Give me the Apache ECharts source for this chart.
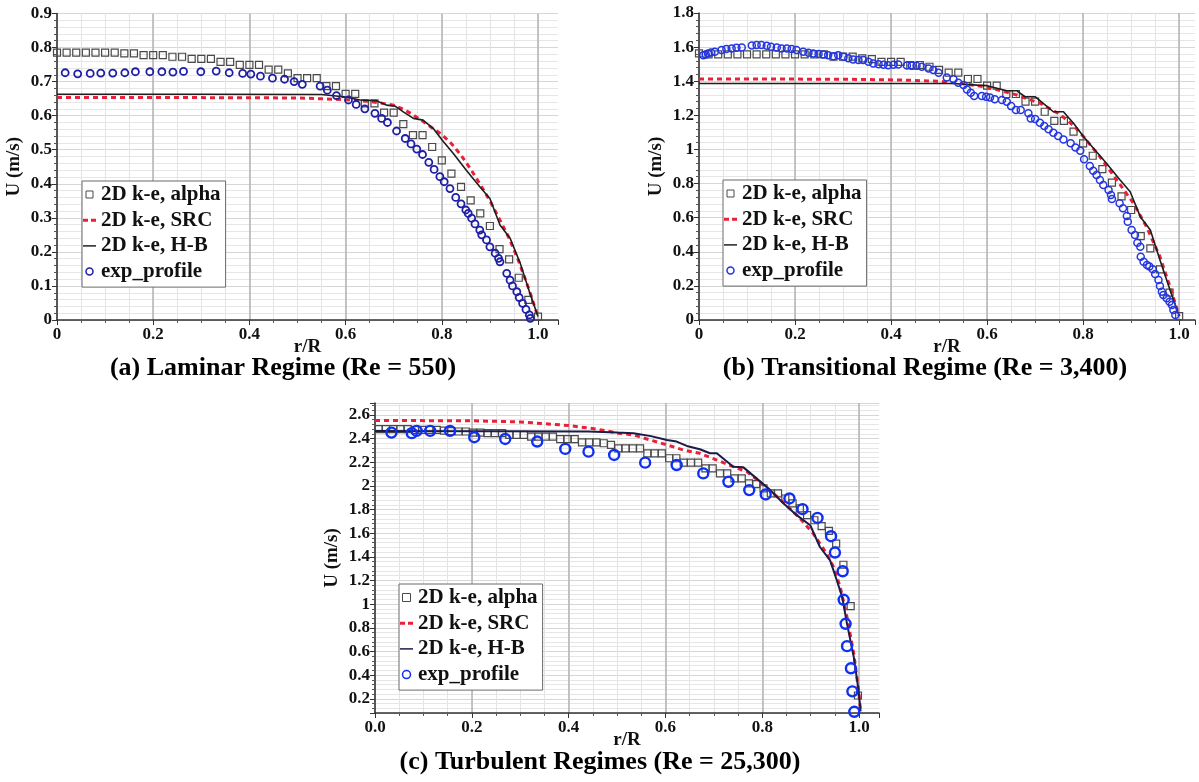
<!DOCTYPE html>
<html><head><meta charset="utf-8">
<script src="https://cdn.jsdelivr.net/npm/echarts@6/dist/echarts.min.js"></script>
<style>html,body{margin:0;padding:0;background:#fff}#c{width:1199px;height:782px}</style>
</head><body><div id="c"></div>
<script>
// ---------- DATA ----------
const SERIES_NAMES = ['2D k-e, alpha', '2D k-e, SRC', '2D k-e, H-B', 'exp_profile'];
const PANEL_TITLES = ['(a) Laminar Regime (Re = 550)', '(b) Transitional Regime (Re = 3,400)', '(c) Turbulent Regimes (Re = 25,300)'];
const X_NAME = 'r/R';
const Y_NAME = 'U (m/s)';

// Panel (a) laminar
const A_ALPHA = [[0,0.785],[0.02,0.785],[0.04,0.785],[0.06,0.785],[0.08,0.785],[0.10,0.785],[0.12,0.785],[0.14,0.783],[0.16,0.783],[0.18,0.778],[0.20,0.778],[0.22,0.778],[0.24,0.773],[0.26,0.773],[0.28,0.767],[0.30,0.767],[0.32,0.767],[0.34,0.758],[0.36,0.758],[0.38,0.749],[0.40,0.749],[0.42,0.749],[0.44,0.735],[0.46,0.735],[0.48,0.724],[0.50,0.710],[0.52,0.710],[0.54,0.710],[0.56,0.687],[0.58,0.687],[0.60,0.664],[0.62,0.664],[0.64,0.636],[0.66,0.636],[0.68,0.609],[0.70,0.609],[0.72,0.575],[0.74,0.543],[0.76,0.543],[0.78,0.508],[0.80,0.469],[0.82,0.430],[0.84,0.391],[0.86,0.351],[0.88,0.313],[0.90,0.276],[0.92,0.208],[0.94,0.178],[0.96,0.124],[0.98,0.059],[1.00,0.010]];
const A_SRC = [[0,0.653],[0.30,0.653],[0.50,0.652],[0.60,0.647],[0.65,0.642],[0.70,0.631],[0.72,0.619],[0.74,0.603],[0.76,0.584],[0.78,0.564],[0.80,0.545],[0.82,0.518],[0.84,0.484],[0.86,0.443],[0.88,0.398],[0.90,0.350],[0.92,0.296],[0.94,0.240],[0.96,0.172],[0.98,0.095],[1.00,0.010]];
const A_HB = [[0,0.663],[0.30,0.663],[0.55,0.662],[0.60,0.655],[0.63,0.646],[0.664,0.644],[0.685,0.631],[0.703,0.628],[0.72,0.611],[0.741,0.592],[0.761,0.587],[0.782,0.563],[0.801,0.528],[0.824,0.489],[0.851,0.440],[0.879,0.391],[0.90,0.357],[0.921,0.279],[0.942,0.240],[0.963,0.167],[0.983,0.079],[1.00,0.010]];
const A_EXP = [[0.017,0.726],[0.043,0.723],[0.069,0.724],[0.091,0.725],[0.116,0.725],[0.141,0.726],[0.163,0.729],[0.193,0.729],[0.218,0.729],[0.241,0.728],[0.263,0.730],[0.299,0.729],[0.331,0.731],[0.358,0.726],[0.386,0.724],[0.403,0.722],[0.423,0.716],[0.448,0.710],[0.473,0.707],[0.493,0.700],[0.510,0.692],[0.547,0.687],[0.562,0.675],[0.581,0.659],[0.606,0.646],[0.622,0.633],[0.640,0.620],[0.661,0.607],[0.675,0.592],[0.687,0.580],[0.706,0.555],[0.724,0.533],[0.736,0.517],[0.748,0.502],[0.760,0.486],[0.773,0.463],[0.784,0.442],[0.796,0.421],[0.805,0.406],[0.817,0.386],[0.829,0.360],[0.840,0.341],[0.850,0.323],[0.855,0.313],[0.862,0.299],[0.869,0.282],[0.879,0.264],[0.883,0.250],[0.893,0.235],[0.900,0.215],[0.911,0.196],[0.918,0.181],[0.921,0.171],[0.935,0.137],[0.942,0.117],[0.947,0.100],[0.956,0.083],[0.961,0.066],[0.968,0.049],[0.975,0.031],[0.982,0.015],[0.984,0.005]];

// Panel (b) transitional
const B_ALPHA = [[0,1.563],[0.02,1.557],[0.04,1.557],[0.06,1.557],[0.08,1.557],[0.10,1.557],[0.12,1.557],[0.14,1.557],[0.16,1.557],[0.18,1.557],[0.20,1.557],[0.22,1.557],[0.24,1.557],[0.26,1.557],[0.28,1.544],[0.30,1.544],[0.32,1.544],[0.34,1.534],[0.36,1.530],[0.38,1.514],[0.40,1.514],[0.42,1.514],[0.44,1.495],[0.46,1.495],[0.48,1.485],[0.50,1.466],[0.52,1.450],[0.54,1.450],[0.56,1.413],[0.58,1.413],[0.60,1.374],[0.62,1.374],[0.64,1.325],[0.66,1.325],[0.68,1.280],[0.70,1.280],[0.72,1.221],[0.74,1.168],[0.76,1.168],[0.78,1.104],[0.80,1.036],[0.82,0.963],[0.84,0.885],[0.86,0.805],[0.88,0.725],[0.90,0.645],[0.92,0.492],[0.94,0.420],[0.96,0.297],[0.98,0.160],[1.00,0.023]];
const B_SRC = [[0,1.413],[0.30,1.412],[0.42,1.407],[0.50,1.400],[0.544,1.387],[0.60,1.366],[0.662,1.319],[0.711,1.270],[0.752,1.205],[0.78,1.140],[0.801,1.074],[0.835,0.957],[0.870,0.821],[0.905,0.684],[0.932,0.547],[0.960,0.371],[0.981,0.195],[1.00,0.023]];
const B_HB = [[0,1.387],[0.53,1.387],[0.579,1.377],[0.60,1.374],[0.641,1.344],[0.662,1.344],[0.679,1.309],[0.70,1.309],[0.717,1.270],[0.738,1.221],[0.759,1.221],[0.78,1.153],[0.801,1.074],[0.822,1.006],[0.849,0.918],[0.877,0.821],[0.898,0.752],[0.919,0.606],[0.94,0.528],[0.96,0.352],[0.981,0.176],[1.00,0.023]];
const B_EXP = [[0.009,1.553],[0.014,1.557],[0.019,1.563],[0.025,1.569],[0.033,1.573],[0.047,1.583],[0.057,1.589],[0.068,1.592],[0.078,1.596],[0.089,1.598],[0.110,1.610],[0.120,1.612],[0.130,1.612],[0.141,1.608],[0.150,1.602],[0.162,1.598],[0.172,1.592],[0.183,1.592],[0.193,1.589],[0.203,1.583],[0.217,1.573],[0.228,1.567],[0.238,1.563],[0.249,1.559],[0.259,1.557],[0.269,1.553],[0.280,1.547],[0.290,1.553],[0.301,1.543],[0.311,1.534],[0.321,1.528],[0.332,1.524],[0.342,1.524],[0.353,1.514],[0.363,1.504],[0.374,1.500],[0.384,1.496],[0.394,1.494],[0.405,1.496],[0.415,1.498],[0.433,1.492],[0.443,1.490],[0.453,1.490],[0.464,1.485],[0.478,1.475],[0.488,1.466],[0.499,1.450],[0.516,1.422],[0.530,1.411],[0.540,1.391],[0.551,1.378],[0.558,1.352],[0.566,1.333],[0.573,1.313],[0.589,1.313],[0.598,1.309],[0.606,1.305],[0.616,1.295],[0.631,1.290],[0.641,1.280],[0.650,1.254],[0.660,1.231],[0.670,1.231],[0.686,1.212],[0.691,1.182],[0.700,1.178],[0.710,1.157],[0.719,1.137],[0.728,1.118],[0.738,1.098],[0.748,1.079],[0.759,1.059],[0.774,1.036],[0.784,1.012],[0.794,0.993],[0.802,0.942],[0.814,0.903],[0.821,0.875],[0.828,0.850],[0.835,0.821],[0.842,0.791],[0.853,0.762],[0.858,0.733],[0.860,0.709],[0.876,0.684],[0.883,0.655],[0.891,0.610],[0.893,0.576],[0.901,0.528],[0.908,0.498],[0.913,0.453],[0.919,0.430],[0.920,0.371],[0.926,0.342],[0.933,0.322],[0.938,0.313],[0.945,0.297],[0.950,0.270],[0.957,0.234],[0.960,0.199],[0.964,0.166],[0.967,0.147],[0.974,0.127],[0.980,0.107],[0.985,0.088],[0.988,0.059],[0.992,0.029]];

// Panel (c) turbulent
const C_ALPHA = [[0.0075,2.479],[0.0225,2.479],[0.0375,2.479],[0.0525,2.479],[0.0675,2.479],[0.0825,2.473],[0.0975,2.473],[0.1125,2.473],[0.1275,2.473],[0.1425,2.467],[0.1575,2.462],[0.1725,2.459],[0.1875,2.459],[0.2025,2.450],[0.2175,2.450],[0.2325,2.445],[0.2475,2.445],[0.2625,2.445],[0.2775,2.430],[0.2925,2.430],[0.3075,2.430],[0.3225,2.416],[0.3375,2.416],[0.3525,2.416],[0.3675,2.416],[0.3825,2.394],[0.3975,2.394],[0.4125,2.394],[0.4275,2.368],[0.4425,2.368],[0.4575,2.368],[0.4725,2.360],[0.4875,2.346],[0.5025,2.317],[0.5175,2.317],[0.5325,2.317],[0.5475,2.317],[0.5625,2.275],[0.5775,2.275],[0.5925,2.275],[0.6075,2.233],[0.6225,2.233],[0.6375,2.196],[0.6525,2.196],[0.6675,2.196],[0.6825,2.148],[0.6975,2.148],[0.7125,2.105],[0.7275,2.105],[0.7425,2.063],[0.7575,2.063],[0.7725,2.021],[0.7875,2.015],[0.8025,1.978],[0.8175,1.936],[0.8325,1.936],[0.8475,1.893],[0.8625,1.851],[0.8775,1.809],[0.8925,1.752],[0.9075,1.709],[0.9225,1.659],[0.9375,1.619],[0.9525,1.512],[0.9675,1.333],[0.9825,0.983],[0.9975,0.228]];
const C_SRC = [[0,2.552],[0.20,2.550],[0.30,2.540],[0.40,2.510],[0.458,2.479],[0.503,2.445],[0.534,2.430],[0.568,2.388],[0.603,2.346],[0.637,2.303],[0.671,2.275],[0.706,2.218],[0.740,2.162],[0.768,2.120],[0.795,2.034],[0.823,1.936],[0.850,1.836],[0.878,1.724],[0.905,1.597],[0.933,1.427],[0.947,1.314],[0.961,1.144],[0.975,0.889],[0.989,0.578],[0.999,0.265],[1.003,0.095]];
const C_HB = [[0,2.464],[0.44,2.460],[0.50,2.450],[0.534,2.445],[0.57,2.420],[0.603,2.388],[0.623,2.374],[0.644,2.337],[0.671,2.309],[0.692,2.275],[0.706,2.275],[0.740,2.162],[0.761,2.156],[0.788,2.063],[0.816,1.964],[0.844,1.851],[0.871,1.752],[0.899,1.667],[0.919,1.483],[0.940,1.370],[0.954,1.200],[0.965,1.059],[0.975,0.833],[0.989,0.550],[0.999,0.265],[1.003,0.095]];
const C_EXP = [[0.034,2.450],[0.076,2.445],[0.086,2.464],[0.114,2.464],[0.155,2.464],[0.205,2.411],[0.269,2.396],[0.335,2.374],[0.393,2.312],[0.441,2.289],[0.494,2.261],[0.558,2.196],[0.623,2.176],[0.678,2.105],[0.730,2.034],[0.773,1.964],[0.807,1.927],[0.856,1.893],[0.883,1.803],[0.914,1.729],[0.942,1.574],[0.950,1.436],[0.966,1.278],[0.968,1.037],[0.972,0.834],[0.975,0.645],[0.983,0.458],[0.986,0.263],[0.990,0.090]];

// Axis ranges (tick settings)
const X_MAX = [1.0416, 1.033, 1.041];
const Y_MIN = [0, 0, 0.08];
const Y_MAX = [0.9, 1.8, 2.7];
const Y_STEP = [0.1, 0.2, 0.2];
const Y_MINOR = [0.02, 0.04, 0.04];
const X_STEP = 0.2, X_MINOR = 0.05;

// ---------- STYLE / LAYOUT ----------
const FONT = "'Liberation Serif','Times New Roman',serif";
const GRIDS = [
  {left:57, top:13.5, width:501, height:306.5},
  {left:699, top:13, width:496, height:307},
  {left:375, top:403, width:504, height:310}
];
const LEGEND_POS = [{left:82, top:181}, {left:723, top:180}, {left:399, top:584}];
const TITLE_POS = [{left:283, top:355}, {left:925, top:355}, {left:600, top:749}];
const STY = [
  {sq:'#4a4a4a', red:'#e8203a', line:'#1e1e1e', lineW:1.6, circ:'#1e1ea6', circSize:7, circW:1.8, legCirc:7},
  {sq:'#4a4a4a', red:'#e8203a', line:'#1e1e1e', lineW:1.6, circ:'#2436e0', circSize:7, circW:1.5, legCirc:7},
  {sq:'#4a4a4a', red:'#e8203a', line:'#1b1b48', lineW:2, circ:'#0f2ff5', circSize:10, circW:2.4, legCirc:8}
];
const DATA = [
  [A_ALPHA, A_SRC, A_HB, A_EXP],
  [B_ALPHA, B_SRC, B_HB, B_EXP],
  [C_ALPHA, C_SRC, C_HB, C_EXP]
];

function isMult(v, s){ return Math.abs(v/s - Math.round(v/s)) < 1e-6; }

const option = {animation:false, backgroundColor:'#fff', grid:[], xAxis:[], yAxis:[], series:[], legend:[], title:[]};
const labelFont = {fontFamily:FONT, fontWeight:'bold', fontSize:17, color:'#111'};
const nameFont = {fontFamily:FONT, fontWeight:'bold', fontSize:19, color:'#111'};

for (let g = 0; g < 3; g++) {
  option.grid.push(Object.assign({containLabel:false}, GRIDS[g]));
  // minor x
  option.xAxis.push({gridIndex:g, type:'value', min:0, max:X_MAX[g], interval:X_MINOR, position:'bottom',
    axisLine:{show:false, onZero:false}, axisTick:{show:true, length:3, lineStyle:{color:'#555', width:1}},
    axisLabel:{show:false}, splitLine:{show:true, showMaxLine:false, lineStyle:{color:'#e4e4e4', width:1}}});
  // major x
  option.xAxis.push({gridIndex:g, type:'value', min:0, max:X_MAX[g], interval:X_STEP, position:'bottom',
    axisLine:{show:true, onZero:false, lineStyle:{color:'#333', width:1.5}},
    axisTick:{show:true, length:5, lineStyle:{color:'#333', width:1}},
    axisLabel:Object.assign({margin:6, formatter:function(v){
      if (!isMult(v, X_STEP)) return '';
      if (g < 2 && v === 0) return '0';
      return v.toFixed(1);
    }}, labelFont),
    splitLine:{show:true, showMaxLine:false, lineStyle:{color:'#b3b3b3', width:1.5}},
    name:X_NAME, nameLocation:'middle', nameGap:18, nameMoveOverlap:false, nameTextStyle:nameFont});
  // minor y
  option.yAxis.push({gridIndex:g, type:'value', position:'left', min:Y_MIN[g], max:Y_MAX[g], interval:Y_MINOR[g],
    axisLine:{show:false, onZero:false}, axisTick:{show:true, length:3, lineStyle:{color:'#555', width:1}},
    axisLabel:{show:false}, splitLine:{show:true, lineStyle:{color:'#e6e6e6', width:1}}});
  // major y
  const ym = {gridIndex:g, type:'value', position:'left', min:Y_MIN[g], max:Y_MAX[g],
    axisLine:{show:true, onZero:false, lineStyle:{color:'#333', width:1.5}},
    axisTick:{show:true, length:5, lineStyle:{color:'#333', width:1}},
    axisLabel:Object.assign({margin:5, formatter:function(v){
      if (!isMult(v, Y_STEP[g])) return '';
      return String(+v.toFixed(2));
    }}, labelFont),
    splitLine:{show:true, lineStyle:{color:'#d6d6d6', width:1}},
    name:Y_NAME, nameLocation:'middle', nameGap:33, nameMoveOverlap:false, nameRotate:90, nameTextStyle:nameFont};
  if (Y_MIN[g] % Y_STEP[g] === 0) { ym.interval = Y_STEP[g]; }
  else { ym.minInterval = Y_STEP[g]; ym.maxInterval = Y_STEP[g]; ym.splitNumber = 13; }
  option.yAxis.push(ym);

  const s = STY[g], d = DATA[g];
  const xi = 2*g+1, yi = 2*g+1;
  option.series.push({name:SERIES_NAMES[0], type:'scatter', xAxisIndex:xi, yAxisIndex:yi, data:d[0],
    symbol:'rect', symbolSize:7, itemStyle:{color:'rgba(0,0,0,0)', borderColor:s.sq, borderWidth:1.2, opacity:1}, z:2});
  option.series.push({name:SERIES_NAMES[1], type:'line', xAxisIndex:xi, yAxisIndex:yi, data:d[1],
    symbol:'none', lineStyle:{color:s.red, width:3, type:[5,4]}, itemStyle:{color:s.red}, z:3});
  option.series.push({name:SERIES_NAMES[2], type:'line', xAxisIndex:xi, yAxisIndex:yi, data:d[2],
    symbol:'none', lineStyle:{color:s.line, width:s.lineW}, itemStyle:{color:s.line}, z:4});
  option.series.push({name:SERIES_NAMES[3], type:'scatter', xAxisIndex:xi, yAxisIndex:yi, data:d[3],
    symbol:'circle', symbolSize:s.circSize, itemStyle:{color:'rgba(0,0,0,0)', borderColor:s.circ, borderWidth:s.circW, opacity:1}, z:5});

  option.legend.push({
    orient:'vertical', left:LEGEND_POS[g].left, top:LEGEND_POS[g].top,
    padding:[3,5,5,1], itemGap:4.7, itemWidth:13, itemHeight:s.legCirc, symbolKeepAspect:true,
    backgroundColor:'#fff', borderColor:'#6a6a6a', borderWidth:1, borderRadius:0,
    selectedMode:false,
    textStyle:{fontFamily:FONT, fontWeight:'bold', fontSize:21, lineHeight:21, color:'#111'},
    data:[
      {name:SERIES_NAMES[0], icon:'path://M0,0L10,0L10,10L0,10Z', itemStyle:{color:'rgba(0,0,0,0)', borderColor:s.sq, borderWidth:1, opacity:1}},
      {name:SERIES_NAMES[1], icon:'path://M0,0H5V3H0ZM8,0H13V3H8Z', itemStyle:{color:s.red, borderWidth:0, borderColor:'rgba(0,0,0,0)', opacity:1}},
      {name:SERIES_NAMES[2], icon:'path://M0,0H14V1.6H0Z', itemStyle:{color:s.line, borderWidth:0, borderColor:'rgba(0,0,0,0)', opacity:1}},
      {name:SERIES_NAMES[3], icon:'circle', itemStyle:{color:'rgba(0,0,0,0)', borderColor:s.circ, borderWidth:1.5, opacity:1}}
    ]
  });
  option.title.push({text:PANEL_TITLES[g], left:TITLE_POS[g].left, top:TITLE_POS[g].top, textAlign:'center', padding:0,
    textStyle:{fontFamily:FONT, fontWeight:'bold', fontSize:26, color:'#000'}});
}

const chart = echarts.init(document.getElementById('c'), null, {renderer:'canvas'});
chart.setOption(option);
</script></body></html>
